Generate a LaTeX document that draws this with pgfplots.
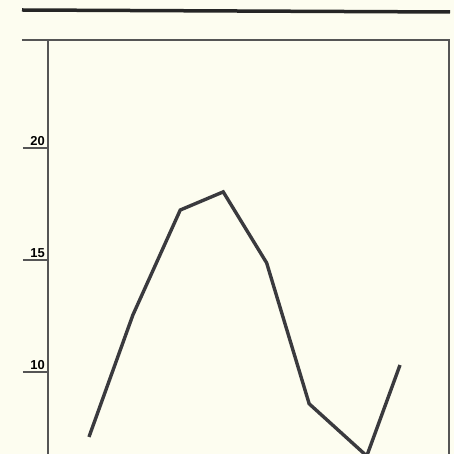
\documentclass[border=0pt]{standalone}
\usepackage{pgfplots}
\pgfplotsset{compat=1.18}
\usepackage{fontspec}
\setmainfont{Liberation Sans}
\definecolor{bg}{RGB}{253,253,240}
\definecolor{ink}{RGB}{58,58,62}
\definecolor{frame}{RGB}{85,85,85}
\begin{document}
\begin{tikzpicture}
\fill[bg] (0,0) rectangle (454bp,454bp);
\useasboundingbox (0,0) rectangle (454bp,454bp);
\clip (0,0) rectangle (454bp,454bp);
% top rule
\draw[line width=3.5bp, black!85] (22bp,444bp) -- (450bp,442bp);
\begin{axis}[
  at={(48bp,-20bp)}, anchor=south west,
  scale only axis, width=401bp, height=434bp,
  xmin=-0.925, xmax=8.126, ymin=5.446, ymax=24.82,
  axis line style={frame, line width=1.2bp},
  xtick=\empty,
  ytick={10,15,20},
  yticklabels={\textbf{10},\textbf{15},\textbf{20}},
  tick align=outside,
  major tick length=25bp,
  tick style={frame, line width=1.2bp},
  ytick pos=left,
  yticklabel style={font=\fontsize{13}{13}\selectfont, anchor=south east, xshift=23bp, yshift=1bp, inner sep=1bp},
  clip=false,
]
\addplot[ink, line width=3.4bp, line join=miter] coordinates {
  (0,7.10) (0.99,12.54) (2.06,17.23) (3.03,18.04) (4.01,14.87) (4.97,8.58) (6.27,6.25) (7.02,10.31)
};
\draw[frame, line width=1.2bp] ([xshift=-26bp]rel axis cs:0,1) -- (rel axis cs:0,1);
\end{axis}
\end{tikzpicture}
\end{document}
